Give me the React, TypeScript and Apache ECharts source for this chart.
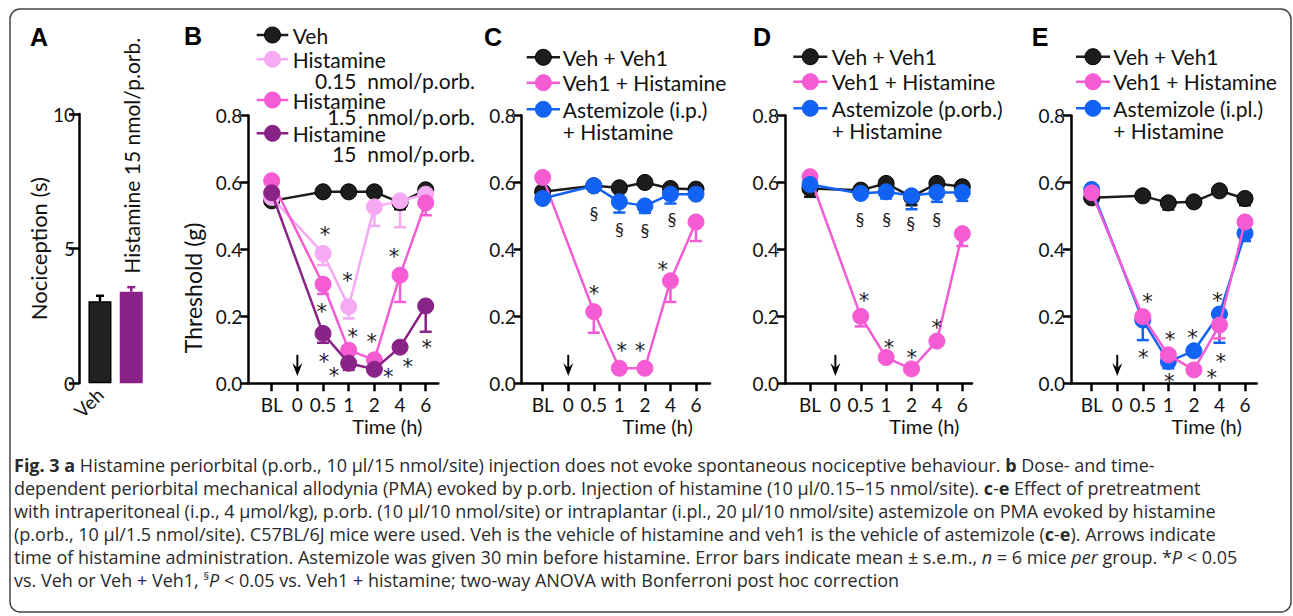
import React, { useEffect, useRef } from 'react';
import * as echarts from 'echarts';

// ---------------- data ----------------
const xTickLabels = ['BL', '0', '0.5', '1', '2', '4', '6'];
const timeIdx = [0, 2, 3, 4, 5, 6];
const injectionIdx = 1;
const arrowSpan = [0.085, 0.022];

const aCategories = ['Veh', 'Histamine 15 nmol/p.orb.'];
const aValues = [3.05, 3.4];
const aErrors = [0.2, 0.17];

const bVeh = [0.545, 0.572, 0.572, 0.572, 0.54, 0.578];
const bVehErr = [0.01, 0, 0, 0, 0.02, 0.01];
const bHis015 = [0.555, 0.388, 0.229, 0.527, 0.545, 0.565];
const bHis015Err = [0, 0.035, 0.035, 0.057, 0.079, 0.01];
const bHis15 = [0.605, 0.296, 0.099, 0.07, 0.323, 0.539];
const bHis15Err = [0, 0.029, 0.01, 0, 0.08, 0.037];
const bHis150 = [0.569, 0.149, 0.06, 0.042, 0.108, 0.231];
const bHis150Err = [0, 0.028, 0.02, 0, 0, 0.077];
const bStars = [[2.08, 0.458], [2.95, 0.32], [4.76, 0.391], [1.95, 0.227], [3.16, 0.154], [3.9, 0.139], [2.04, 0.078], [2.43, 0.037], [4.54, 0.033], [5.3, 0.063], [6.04, 0.121]];

const cVeh = [0.572, 0.59, 0.584, 0.6, 0.582, 0.58];
const cVehErr = [0.01, 0, 0, 0, 0, 0.01];
const cHis = [0.615, 0.214, 0.045, 0.045, 0.306, 0.482];
const cHisErr = [0, 0.063, 0, 0, 0.063, 0.057];
const cAste = [0.552, 0.59, 0.542, 0.53, 0.565, 0.565];
const cAsteErr = [0, 0, 0.032, 0.021, 0.028, 0];
const cStars = [[2.01, 0.281], [3.09, 0.111], [3.81, 0.111], [4.7, 0.353]];
const cSections = [[2.01, 0.51], [3.0, 0.46], [4.0, 0.458], [5.06, 0.49]];

const dVeh = [0.582, 0.577, 0.597, 0.557, 0.597, 0.587];
const dVehErr = [0.025, 0.01, 0, 0.025, 0, 0];
const dHis = [0.617, 0.2, 0.077, 0.043, 0.126, 0.447];
const dHisErr = [0, 0.03, 0, 0, 0, 0.037];
const dAste = [0.594, 0.567, 0.572, 0.56, 0.57, 0.57];
const dAsteErr = [0.02, 0, 0.02, 0.04, 0.028, 0.025];
const dStars = [[2.13, 0.261], [3.11, 0.119], [4.01, 0.09], [4.99, 0.179]];
const dSections = [[1.97, 0.49], [3.02, 0.49], [3.97, 0.478], [4.99, 0.49]];

const eVeh = [0.554, 0.56, 0.539, 0.542, 0.575, 0.552];
const eVehErr = [0, 0, 0.02, 0, 0, 0.02];
const eHis = [0.569, 0.199, 0.085, 0.04, 0.174, 0.482];
const eHisErr = [0, 0, 0, 0, 0.04, 0];
const eAste = [0.579, 0.189, 0.065, 0.097, 0.207, 0.448];
const eAsteErr = [0, 0.06, 0.02, 0, 0.086, 0.023];
const eStars = [[2.18, 0.257], [2.02, 0.09], [3.06, 0.144], [3.04, 0.02], [3.95, 0.149], [4.7, 0.032], [4.92, 0.261], [5.05, 0.079]];

const captionLines = [
  '{b|Fig. 3 a} Histamine periorbital (p.orb., 10 μl/15 nmol/site) injection does not evoke spontaneous nociceptive behaviour. {b|b} Dose- and time-',
  'dependent periorbital mechanical allodynia (PMA) evoked by p.orb. Injection of histamine (10 μl/0.15–15 nmol/site). {b|c}-{b|e} Effect of pretreatment',
  'with intraperitoneal (i.p., 4 μmol/kg), p.orb. (10 μl/10 nmol/site) or intraplantar (i.pl., 20 μl/10 nmol/site) astemizole on PMA evoked by histamine',
  '(p.orb., 10 μl/1.5 nmol/site). C57BL/6J mice were used. Veh is the vehicle of histamine and veh1 is the vehicle of astemizole ({b|c}-{b|e}). Arrows indicate',
  'time of histamine administration. Astemizole was given 30 min before histamine. Error bars indicate mean ± s.e.m., {i|n} = 6 mice {i|per} group. *{i|P} < 0.05',
  'vs. Veh or Veh + Veh1, {s|§}{i|P} < 0.05 vs. Veh1 + histamine; two-way ANOVA with Bonferroni post hoc correction',
];

// ---------------- styles / layout ----------------
const BLACK = '#1d1d1d';
const LIGHT = '#f6aaf4';
const PINK = '#f55bd3';
const PURPLE = '#8a2387';
const BLUE = '#1262f4';
const FONT = 'Lato, "Open Sans", sans-serif';
const CAP_FONT = '"Open Sans", Lato, sans-serif';
const TXT = '#111';
const GRID_TOP = 115.5;
const GRID_BOTTOM = 383.3;

type S = { name: string; color: string; values: number[]; errs: number[] };
type LegendRow = { color: string; lines: string[]; ys: number[]; align2?: string };
type Panel = {
  letter: string; letterPos: number[];
  left: number; bl: number; sp: number; end: number;
  series: S[]; legend: LegendRow[]; legendX: number[]; legendRight: number;
  stars: number[][]; sections: number[][]; yName?: string;
};

const panels: Panel[] = [
  {
    letter: 'B', letterPos: [193, 36], left: 248.3, bl: 271.7, sp: 25.67, end: 438.3,
    yName: 'Threshold (g)',
    series: [
      { name: 'Veh', color: BLACK, values: bVeh, errs: bVehErr },
      { name: 'Histamine 0.15 nmol/p.orb.', color: LIGHT, values: bHis015, errs: bHis015Err },
      { name: 'Histamine 1.5 nmol/p.orb.', color: PINK, values: bHis15, errs: bHis15Err },
      { name: 'Histamine 15 nmol/p.orb.', color: PURPLE, values: bHis150, errs: bHis150Err },
    ],
    legend: [
      { color: BLACK, lines: ['Veh'], ys: [35] },
      { color: LIGHT, lines: ['Histamine', '0.15  nmol/p.orb.'], ys: [59.3, 80], align2: 'right' },
      { color: PINK, lines: ['Histamine', '1.5  nmol/p.orb.'], ys: [100, 116.7], align2: 'right' },
      { color: PURPLE, lines: ['Histamine', '15  nmol/p.orb.'], ys: [133.3, 153.3], align2: 'right' },
    ],
    legendX: [256.7, 288.3, 292.7], legendRight: 475,
    stars: bStars, sections: [],
  },
  {
    letter: 'C', letterPos: [493, 37], left: 521.7, bl: 542.7, sp: 25.55, end: 710,
    series: [
      { name: 'Veh + Veh1', color: BLACK, values: cVeh, errs: cVehErr },
      { name: 'Veh1 + Histamine', color: PINK, values: cHis, errs: cHisErr },
      { name: 'Astemizole (i.p.) + Histamine', color: BLUE, values: cAste, errs: cAsteErr },
    ],
    legend: [
      { color: BLACK, lines: ['Veh + Veh1'], ys: [57.3] },
      { color: PINK, lines: ['Veh1 + Histamine'], ys: [82.7] },
      { color: BLUE, lines: ['Astemizole (i.p.)', '+ Histamine'], ys: [109.3, 131] },
    ],
    legendX: [526.7, 560, 562.7], legendRight: 0,
    stars: cStars, sections: cSections,
  },
  {
    letter: 'D', letterPos: [762, 37], left: 785, bl: 810, sp: 25.38, end: 972,
    series: [
      { name: 'Veh + Veh1', color: BLACK, values: dVeh, errs: dVehErr },
      { name: 'Veh1 + Histamine', color: PINK, values: dHis, errs: dHisErr },
      { name: 'Astemizole (p.orb.) + Histamine', color: BLUE, values: dAste, errs: dAsteErr },
    ],
    legend: [
      { color: BLACK, lines: ['Veh + Veh1'], ys: [56.7] },
      { color: PINK, lines: ['Veh1 + Histamine'], ys: [81.7] },
      { color: BLUE, lines: ['Astemizole (p.orb.)', '+ Histamine'], ys: [108.3, 130] },
    ],
    legendX: [793.3, 827.3, 831.7], legendRight: 0,
    stars: dStars, sections: dSections,
  },
  {
    letter: 'E', letterPos: [1040, 37], left: 1071, bl: 1091.7, sp: 25.55, end: 1256.7,
    series: [
      { name: 'Veh + Veh1', color: BLACK, values: eVeh, errs: eVehErr },
      { name: 'Astemizole (i.pl.) + Histamine', color: BLUE, values: eAste, errs: eAsteErr },
      { name: 'Veh1 + Histamine', color: PINK, values: eHis, errs: eHisErr },
    ],
    legend: [
      { color: BLACK, lines: ['Veh + Veh1'], ys: [56.7] },
      { color: PINK, lines: ['Veh1 + Histamine'], ys: [81.7] },
      { color: BLUE, lines: ['Astemizole (i.pl.)', '+ Histamine'], ys: [108.3, 130] },
    ],
    legendX: [1076, 1110, 1113.3], legendRight: 0,
    stars: eStars, sections: [],
  },
];

const errRender = (color: string, dir: number, cap: number) => (params: any, api: any) => {
  const x = api.value(0), y = api.value(1), e = api.value(2);
  const p0 = api.coord([x, y]);
  const p1 = api.coord([x, y + dir * e]);
  return {
    type: 'group',
    children: [
      { type: 'line', shape: { x1: p0[0], y1: p0[1], x2: p1[0], y2: p1[1] }, style: { stroke: color, lineWidth: 2.5 } },
      { type: 'line', shape: { x1: p1[0] - cap, y1: p1[1], x2: p1[0] + cap, y2: p1[1] }, style: { stroke: color, lineWidth: 2.5 } },
    ],
  };
};

const arrowRender = (params: any, api: any) => {
  const top = api.coord([api.value(0), api.value(1)]);
  const tip = api.coord([api.value(0), api.value(2)]);
  return {
    type: 'group',
    children: [
      { type: 'line', shape: { x1: top[0], y1: top[1], x2: tip[0], y2: tip[1] - 5 }, style: { stroke: '#000', lineWidth: 2 } },
      { type: 'polygon', shape: { points: [[tip[0], tip[1]], [tip[0] - 5, tip[1] - 13], [tip[0], tip[1] - 8], [tip[0] + 5, tip[1] - 13]] }, style: { fill: '#000' } },
    ],
  };
};

const markRender = (txt: string, size: number, family: string, dy: number) => (params: any, api: any) => {
  const p = api.coord([api.value(0), api.value(1)]);
  return {
    type: 'text', x: p[0], y: p[1] + dy,
    style: {
      text: txt, fill: '#1a1a1a', fontSize: size, fontFamily: family,
      align: 'center', textAlign: 'center', verticalAlign: 'middle', textVerticalAlign: 'middle',
    },
  };
};

function textEl(x: number, y: number, text: string, size: number, align = 'left', extra: any = {}) {
  return {
    type: 'text', x, y, silent: true,
    style: {
      text, fill: TXT, fontSize: size, fontFamily: FONT,
      align, textAlign: align, verticalAlign: 'middle', textVerticalAlign: 'middle', ...extra,
    },
  };
}

function buildOption() {
  const grid: any[] = [];
  const xAxis: any[] = [];
  const yAxis: any[] = [];
  const series: any[] = [];
  const graphic: any[] = [];

  // frame
  graphic.push({
    type: 'rect', silent: true, z: -1,
    shape: { x: 10, y: 9, width: 1281, height: 603, r: 10 },
    style: { fill: 'none', stroke: '#444', lineWidth: 1.5 },
  });

  // ---- Panel A ----
  grid.push({ left: 84.3, top: 114, width: 62.6, height: GRID_BOTTOM - 114 });
  xAxis.push({
    type: 'category', gridIndex: 0, data: aCategories,
    axisLine: { show: false, onZero: false }, axisTick: { show: false },
    axisLabel: {
      rotate: 45, margin: 8, fontSize: 19, color: TXT, fontFamily: FONT, interval: 0,
      formatter: (v: string) => (v === aCategories[0] ? v : ''),
    },
  });
  yAxis.push({
    type: 'value', gridIndex: 0, min: 0, max: 10, interval: 5, offset: 5.3,
    axisLine: { show: true, onZero: false, lineStyle: { color: '#000', width: 2.5 } },
    axisTick: { show: true, length: 10, lineStyle: { color: '#000', width: 2.5 } },
    axisLabel: { fontSize: 19, color: TXT, fontFamily: FONT, margin: 4 },
    splitLine: { show: false },
    name: 'Nociception (s)', nameLocation: 'middle', nameGap: 30,
    nameTextStyle: { fontSize: 22, color: TXT, fontFamily: FONT },
  });
  series.push({
    type: 'bar', xAxisIndex: 0, yAxisIndex: 0, barWidth: 23, z: 2,
    data: aValues.map((v, i) => i === 0
      ? { value: v, itemStyle: { color: '#222', borderColor: '#000', borderWidth: 1.5 } }
      : {
        value: v, itemStyle: { color: PURPLE },
        label: {
          show: true, position: 'top', distance: 18, rotate: 90, align: 'left', verticalAlign: 'middle',
          formatter: '{b}', fontSize: 21, color: TXT, fontFamily: FONT,
        },
      }),
  });
  series.push({
    type: 'custom', xAxisIndex: 0, yAxisIndex: 0, z: 1,
    data: [[0, aValues[0], aErrors[0]]], renderItem: errRender('#000', 1, 4),
  });
  series.push({
    type: 'custom', xAxisIndex: 0, yAxisIndex: 0, z: 1,
    data: [[1, aValues[1], aErrors[1]]], renderItem: errRender(PURPLE, 1, 4),
  });
  graphic.push(textEl(39, 37, 'A', 25, 'center', { fontFamily: '"Liberation Sans", Arial, sans-serif', fontWeight: 'bold', fill: '#000' }));

  // ---- Panels B-E ----
  panels.forEach((p, k) => {
    const gi = k + 1;
    const min = -(p.bl - p.left) / p.sp;
    const max = (p.end - p.bl) / p.sp;
    grid.push({ left: p.left, top: GRID_TOP, width: p.end - p.left, height: GRID_BOTTOM - GRID_TOP });
    const tickVals = xTickLabels.map((_, i) => i);
    const nameCenter = p.bl + 4.5 * p.sp;
    xAxis.push({
      type: 'value', gridIndex: gi, min, max,
      axisLine: { show: true, onZero: false, lineStyle: { color: '#000', width: 2.5 } },
      axisTick: { show: true, customValues: tickVals, length: 8, lineStyle: { color: '#000', width: 2.5 } },
      axisLabel: {
        show: true, customValues: tickVals, fontSize: 19, color: TXT, fontFamily: FONT, margin: 12,
        formatter: (v: number) => xTickLabels[Math.round(v)] ?? '',
      },
      splitLine: { show: false },
      name: 'Time (h)', nameLocation: 'end', nameGap: -(p.end - nameCenter),
      nameTextStyle: { fontSize: 20, color: TXT, fontFamily: FONT, align: 'center', verticalAlign: 'top', padding: [33, 0, 0, 0] },
    });
    const yA: any = {
      type: 'value', gridIndex: gi, min: 0, max: 0.8, interval: 0.2,
      axisLine: { show: true, onZero: false, lineStyle: { color: '#000', width: 2.5 } },
      axisTick: { show: true, length: 8, lineStyle: { color: '#000', width: 2.5 } },
      axisLabel: { fontSize: 19, color: TXT, fontFamily: FONT, margin: 6, formatter: (v: number) => v.toFixed(1) },
      splitLine: { show: false },
    };
    if (p.yName) {
      Object.assign(yA, {
        name: p.yName, nameLocation: 'middle', nameGap: 44,
        nameTextStyle: { fontSize: 23, color: TXT, fontFamily: FONT, padding: [0, 77, 0, 0] },
      });
    }
    yAxis.push(yA);

    p.series.forEach((s, j) => {
      series.push({
        type: 'custom', name: s.name + ' error', xAxisIndex: gi, yAxisIndex: gi, z: 2,
        data: s.values.map((v, i) => [timeIdx[i], v, s.errs[i]]).filter((d) => d[2] > 0),
        renderItem: errRender(s.color, -1, 6),
        silent: true,
      });
      series.push({
        type: 'line', name: s.name, xAxisIndex: gi, yAxisIndex: gi, z: 3 + j * 0.01,
        data: s.values.map((v, i) => [timeIdx[i], v]),
        symbol: 'circle', symbolSize: 16, showSymbol: true,
        lineStyle: { color: s.color, width: 2.5 },
        itemStyle: { color: s.color, borderColor: s.color === BLACK ? '#000' : s.color, borderWidth: 1 },
        silent: true,
      });
    });

    series.push({
      type: 'custom', xAxisIndex: gi, yAxisIndex: gi, z: 4, silent: true,
      data: [[injectionIdx, arrowSpan[0], arrowSpan[1]]], renderItem: arrowRender,
    });
    series.push({
      type: 'custom', xAxisIndex: gi, yAxisIndex: gi, z: 5, silent: true,
      data: p.stars, renderItem: markRender('*', 21, '"DejaVu Sans", sans-serif', 5),
    });
    if (p.sections.length) {
      series.push({
        type: 'custom', xAxisIndex: gi, yAxisIndex: gi, z: 5, silent: true,
        data: p.sections, renderItem: markRender('§', 18, FONT, 0),
      });
    }

    // legend graphics
    const [lx0, lx1, tx] = p.legendX;
    p.legend.forEach((r) => {
      const y = r.ys[0];
      graphic.push({ type: 'line', silent: true, shape: { x1: lx0, y1: y, x2: lx1, y2: y }, style: { stroke: r.color, lineWidth: 2.5 } });
      graphic.push({ type: 'circle', silent: true, shape: { cx: (lx0 + lx1) / 2, cy: y, r: 8 }, style: { fill: r.color, stroke: r.color === BLACK ? '#000' : r.color, lineWidth: 1 } });
      graphic.push(textEl(tx, y, r.lines[0], 21));
      if (r.lines[1]) {
        if (r.align2 === 'right') graphic.push(textEl(p.legendRight, r.ys[1], r.lines[1], 21, 'right'));
        else graphic.push(textEl(tx, r.ys[1], r.lines[1], 21));
      }
    });
    graphic.push(textEl(p.letterPos[0], p.letterPos[1], p.letter, 25, 'center', { fontFamily: '"Liberation Sans", Arial, sans-serif', fontWeight: 'bold', fill: '#000' }));
  });

  // caption
  const capSize = 18;
  const capColor = '#2a2a2a';
  const rich = {
    b: { fontWeight: 'bold', fontSize: capSize, fontFamily: CAP_FONT, fill: capColor, color: capColor },
    i: { fontStyle: 'italic', fontSize: capSize, fontFamily: CAP_FONT, fill: capColor, color: capColor },
    s: { fontSize: 11, fontFamily: CAP_FONT, fill: capColor, color: capColor, padding: [0, 0, 10, 0] },
  };
  captionLines.forEach((line, i) => {
    graphic.push({
      type: 'text', x: 14, y: 465 + i * 23, silent: true,
      style: {
        text: line, rich, fill: capColor, fontSize: capSize, fontFamily: CAP_FONT,
        align: 'left', textAlign: 'left', verticalAlign: 'middle', textVerticalAlign: 'middle',
      },
    });
  });

  return {
    animation: false,
    backgroundColor: '#fff',
    textStyle: { fontFamily: FONT },
    grid, xAxis, yAxis, series, graphic,
  };
}

export default function App() {
  const ref = useRef<HTMLDivElement>(null);
  useEffect(() => {
    if (!ref.current) return;
    const chart = echarts.init(ref.current, undefined, { renderer: 'svg' });
    chart.setOption(buildOption() as any);
    return () => chart.dispose();
  }, []);
  return (
    <div
      ref={ref}
      style={{ position: 'fixed', left: 0, top: 0, width: 1293, height: 616, background: '#fff' }}
    />
  );
}
